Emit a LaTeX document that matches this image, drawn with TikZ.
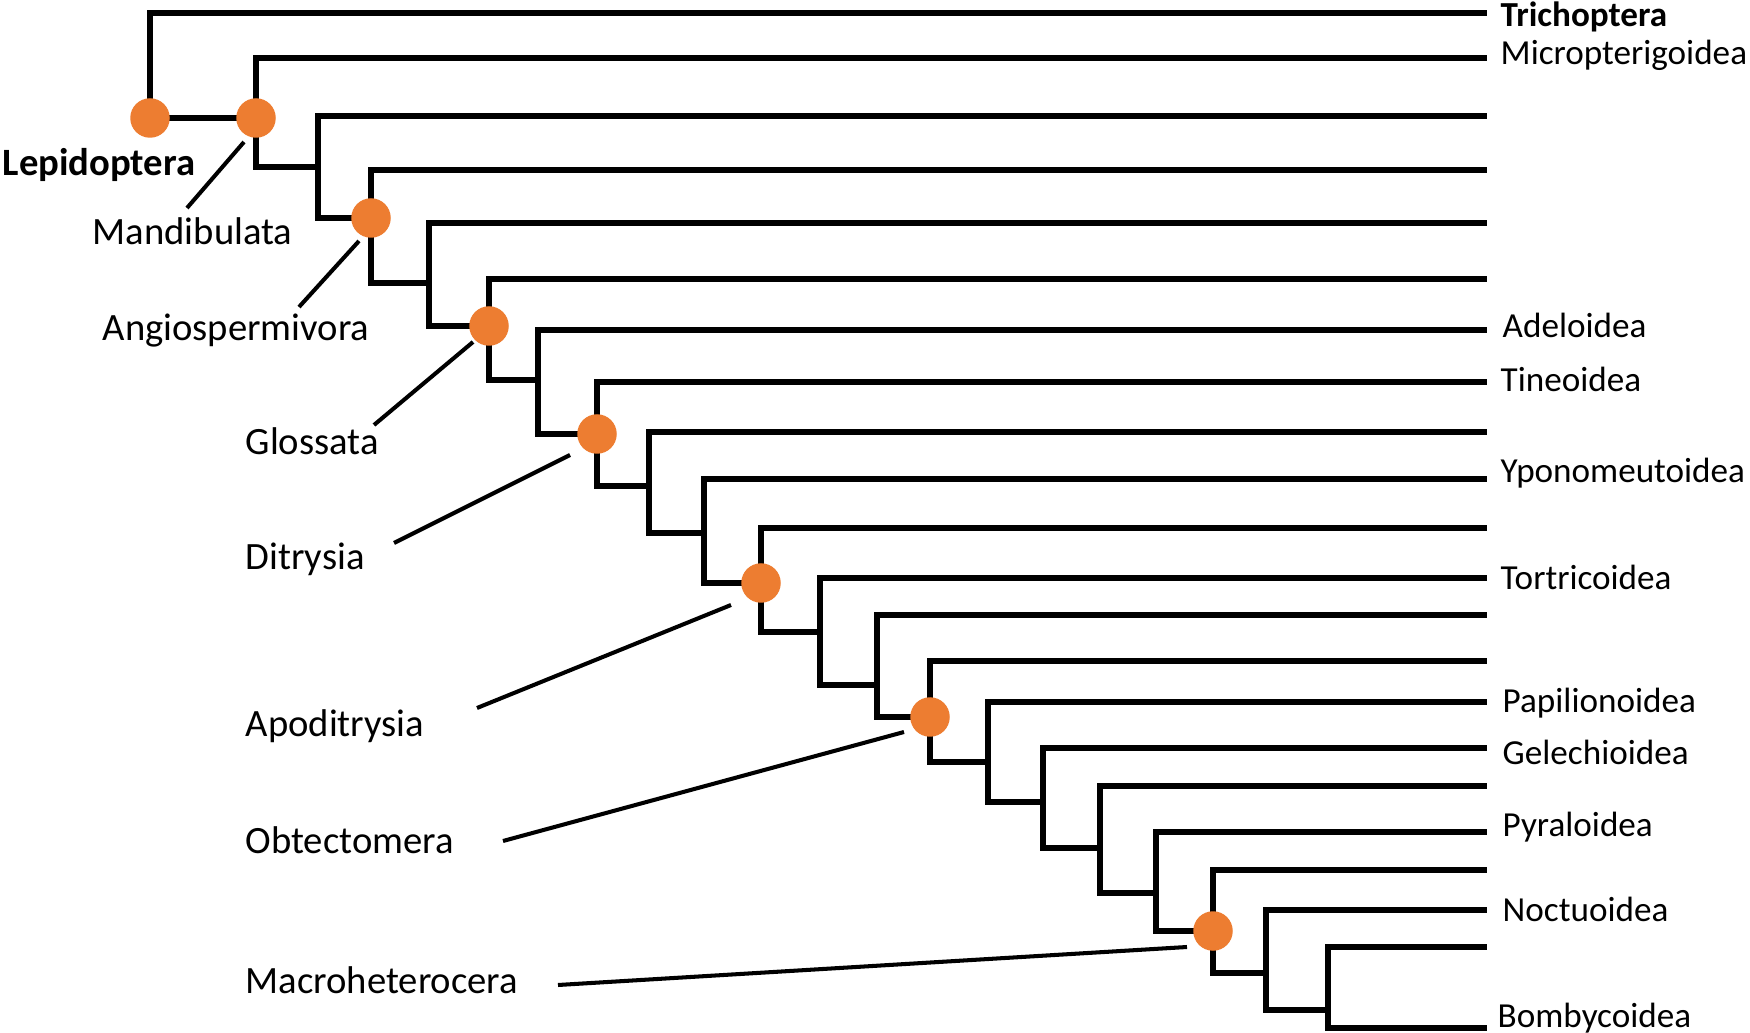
\documentclass[tikz,border=0pt]{standalone}
\usepackage{fontspec}
\setmainfont{Carlito}
\usepackage{tikz}
\definecolor{cladeorange}{RGB}{237,125,49}

\begin{document}
\begin{tikzpicture}[x=0.1mm,y=-0.1mm,
    branch/.style={line width=1.55pt,line cap=rect},
    leader/.style={line width=1.15pt},
    clade dot/.style={circle,fill=cladeorange,inner sep=0pt,minimum size=3.95mm},
    taxon/.style={anchor=base west,inner sep=0pt,font=\fontsize{10}{12}\selectfont},
    clade/.style={anchor=base west,inner sep=0pt,font=\fontsize{11}{13}\selectfont}]

  \useasboundingbox (0,0) rectangle (1750,1033);

  % tips of the leaves
  \coordinate (l1) at (1484,13);
  \coordinate (l2) at (1484,58);
  \coordinate (l3) at (1484,116);
  \coordinate (l4) at (1484,170);
  \coordinate (l5) at (1484,223);
  \coordinate (l6) at (1484,279);
  \coordinate (l7) at (1484,330);
  \coordinate (l8) at (1484,382);
  \coordinate (l9) at (1484,432);
  \coordinate (l10) at (1484,479);
  \coordinate (l11) at (1484,528);
  \coordinate (l12) at (1484,578);
  \coordinate (l13) at (1484,615);
  \coordinate (l14) at (1484,661);
  \coordinate (l15) at (1484,702);
  \coordinate (l16) at (1484,748);
  \coordinate (l17) at (1484,786);
  \coordinate (l18) at (1484,832);
  \coordinate (l19) at (1484,870);
  \coordinate (l20) at (1484,910);
  \coordinate (l21) at (1484,947);
  \coordinate (l22) at (1484,1028);

  % lower corner of every bracket
  \coordinate (n1) at (150,118);
  \coordinate (n2) at (256,167);
  \coordinate (n3) at (318,218);
  \coordinate (n4) at (371,283);
  \coordinate (n5) at (429,326);
  \coordinate (n6) at (489,380);
  \coordinate (n7) at (538,434);
  \coordinate (n8) at (597,486);
  \coordinate (n9) at (649,533);
  \coordinate (n10) at (704,583);
  \coordinate (n11) at (761,632);
  \coordinate (n12) at (820,685);
  \coordinate (n13) at (877,717);
  \coordinate (n14) at (930,762);
  \coordinate (n15) at (988,802);
  \coordinate (n16) at (1043,848);
  \coordinate (n17) at (1100,893);
  \coordinate (n18) at (1156,931);
  \coordinate (n19) at (1213,973);
  \coordinate (n20) at (1266,1010);
  \coordinate (n21) at (1328,1028);

  \draw[branch] (n1) |- (l1);  \draw[branch] (n1) -- (n1 -| n2);
  \draw[branch] (n2) |- (l2);  \draw[branch] (n2) -- (n2 -| n3);
  \draw[branch] (n3) |- (l3);  \draw[branch] (n3) -- (n3 -| n4);
  \draw[branch] (n4) |- (l4);  \draw[branch] (n4) -- (n4 -| n5);
  \draw[branch] (n5) |- (l5);  \draw[branch] (n5) -- (n5 -| n6);
  \draw[branch] (n6) |- (l6);  \draw[branch] (n6) -- (n6 -| n7);
  \draw[branch] (n7) |- (l7);  \draw[branch] (n7) -- (n7 -| n8);
  \draw[branch] (n8) |- (l8);  \draw[branch] (n8) -- (n8 -| n9);
  \draw[branch] (n9) |- (l9);  \draw[branch] (n9) -- (n9 -| n10);
  \draw[branch] (n10) |- (l10);  \draw[branch] (n10) -- (n10 -| n11);
  \draw[branch] (n11) |- (l11);  \draw[branch] (n11) -- (n11 -| n12);
  \draw[branch] (n12) |- (l12);  \draw[branch] (n12) -- (n12 -| n13);
  \draw[branch] (n13) |- (l13);  \draw[branch] (n13) -- (n13 -| n14);
  \draw[branch] (n14) |- (l14);  \draw[branch] (n14) -- (n14 -| n15);
  \draw[branch] (n15) |- (l15);  \draw[branch] (n15) -- (n15 -| n16);
  \draw[branch] (n16) |- (l16);  \draw[branch] (n16) -- (n16 -| n17);
  \draw[branch] (n17) |- (l17);  \draw[branch] (n17) -- (n17 -| n18);
  \draw[branch] (n18) |- (l18);  \draw[branch] (n18) -- (n18 -| n19);
  \draw[branch] (n19) |- (l19);  \draw[branch] (n19) -- (n19 -| n20);
  \draw[branch] (n20) |- (l20);  \draw[branch] (n20) -- (n20 -| n21);
  \draw[branch] (n21) |- (l21);  \draw[branch] (n21) -- (l22);

  % clade dots
  \node[clade dot] (lepidoptera) at (n1) {};
  \node[clade dot] (mandibulata) at (n1 -| n2) {};
  \node[clade dot] (angiospermivora) at (n3 -| n4) {};
  \node[clade dot] (glossata) at (n5 -| n6) {};
  \node[clade dot] (ditrysia) at (n7 -| n8) {};
  \node[clade dot] (apoditrysia) at (n10 -| n11) {};
  \node[clade dot] (obtectomera) at (n13 -| n14) {};
  \node[clade dot] (macroheterocera) at (n18 -| n19) {};

  % taxa
  \node[taxon,font=\fontsize{10}{12}\selectfont\bfseries] (trichoptera label) at (1500,27) {Trichoptera};
  \node[taxon] (micropterigoidea label) at (1500,65) {Micropterigoidea};
  \node[taxon] (adeloidea label) at (1502,338) {Adeloidea};
  \node[taxon] (tineoidea label) at (1500,392) {Tineoidea};
  \node[taxon] (yponomeutoidea label) at (1500,483) {Yponomeutoidea};
  \node[taxon] (tortricoidea label) at (1500,590) {Tortricoidea};
  \node[taxon] (papilionoidea label) at (1502,712) {Papilionoidea};
  \node[taxon] (gelechioidea label) at (1502,764) {Gelechioidea};
  \node[taxon] (pyraloidea label) at (1502,837) {Pyraloidea};
  \node[taxon] (noctuoidea label) at (1502,921) {Noctuoidea};
  \node[taxon] (bombycoidea label) at (1497,1027) {Bombycoidea};

  % clades
  \node[clade,font=\fontsize{11}{13}\selectfont\bfseries] (lepidoptera label) at (2,176) {Lepidoptera};
  \node[clade] (mandibulata label) at (92,245) {Mandibulata};
  \node[clade] (angiospermivora label) at (102,341) {Angiospermivora};
  \node[clade] (glossata label) at (245,455) {Glossata};
  \node[clade] (ditrysia label) at (245,570) {Ditrysia};
  \node[clade] (apoditrysia label) at (245,736) {Apoditrysia};
  \node[clade] (obtectomera label) at (245,853) {Obtectomera};
  \node[clade] (macroheterocera label) at (245,993) {Macroheterocera};

  \coordinate (mandibulata end) at (187,208);
  \coordinate (angiospermivora end) at (299,307);
  \coordinate (glossata end) at (374,425);
  \coordinate (ditrysia end) at (394,543);
  \coordinate (apoditrysia end) at (477,708);
  \coordinate (obtectomera end) at (503,841);
  \coordinate (macroheterocera end) at (558,985);

  \draw[leader] (244,142) -- (mandibulata end);
  \draw[leader] (359,241) -- (angiospermivora end);
  \draw[leader] (473,342) -- (glossata end);
  \draw[leader] (570,455) -- (ditrysia end);
  \draw[leader] (731,605) -- (apoditrysia end);
  \draw[leader] (904,732) -- (obtectomera end);
  \draw[leader] (1187,947) -- (macroheterocera end);

\end{tikzpicture}
\end{document}
